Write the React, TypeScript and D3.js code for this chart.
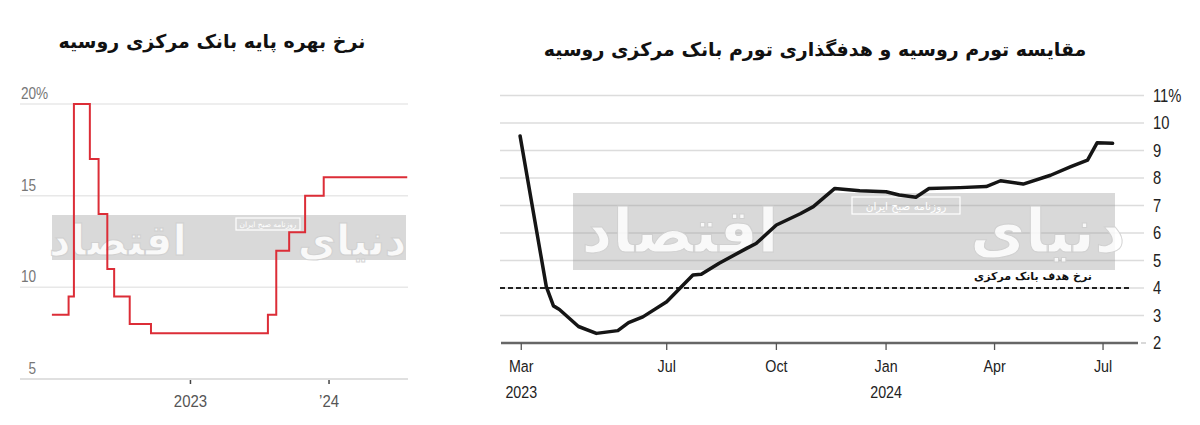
import { useEffect, useRef } from 'react';
import * as d3 from 'd3';

// Left chart: Russian central bank key rate (step line)
const rateDates = [
  '2022-01-01', '2022-02-14', '2022-02-28', '2022-04-11', '2022-05-04', '2022-05-27',
  '2022-06-14', '2022-07-25', '2022-09-19', '2023-07-24', '2023-08-15', '2023-09-18',
  '2023-10-30', '2023-12-18', '2024-07-25',
];
const rateValues = [8.5, 9.5, 20, 17, 14, 11, 9.5, 8, 7.5, 8.5, 12, 13, 15, 16, 16];
const rateTicks = [5, 10, 15, 20];
const rateXTicks = ['2023-01-01', '2024-01-01'];
const rateXLabels = ['2023', '’24'];

// Right chart: inflation vs target
const inflDates = [
  '2023-02-28', '2023-03-22', '2023-03-28', '2023-04-02', '2023-04-18', '2023-05-03',
  '2023-05-21', '2023-05-30', '2023-06-11', '2023-07-01', '2023-07-23', '2023-07-30',
  '2023-08-14', '2023-09-06', '2023-09-14', '2023-10-01', '2023-10-21', '2023-11-01',
  '2023-11-19', '2023-12-10', '2024-01-01', '2024-01-12', '2024-01-26', '2024-02-06',
  '2024-03-03', '2024-03-25', '2024-04-06', '2024-04-25', '2024-05-18', '2024-06-04',
  '2024-06-18', '2024-06-26', '2024-07-09',
];
const inflValues = [
  9.53, 4.05, 3.35, 3.22, 2.6, 2.35,
  2.45, 2.74, 2.95, 3.5, 4.47, 4.5,
  4.9, 5.44, 5.62, 6.29, 6.7, 6.96,
  7.62, 7.54, 7.5, 7.38, 7.3, 7.62,
  7.65, 7.69, 7.9, 7.78, 8.1, 8.41,
  8.65, 9.28, 9.26,
];
const targetValue = 4;
const inflTicks = [2, 3, 4, 5, 6, 7, 8, 9, 10, 11];
const inflXTicks = ['2023-03-01', '2023-07-01', '2023-10-01', '2024-01-01', '2024-04-01', '2024-07-01'];
const inflXLabels = ['Mar', 'Jul', 'Oct', 'Jan', 'Apr', 'Jul'];
const inflXYears = ['2023', '', '', '2024', '', ''];

const leftTitle = 'نرخ بهره پایه بانک مرکزی روسیه';
const rightTitle = 'مقایسه تورم روسیه و هدفگذاری تورم بانک مرکزی روسیه';
const targetLabel = 'نرخ هدف بانک مرکزی';
const watermarkA = 'اقتصاد';
const watermarkB = 'دنیای';
const watermarkSmall = 'روزنامه صبح ایران';

const parse = d3.timeParse('%Y-%m-%d');
const FA = '"DejaVu Sans", sans-serif';
const SANS = '"Liberation Sans", Arial, sans-serif';

type G = d3.Selection<SVGGElement, unknown, null, undefined>;

// condensed-looking label (narrow fonts are not available)
function narrowText(g: G, x: number, y: number, text: string, size: number, fill: string, anchor = 'middle', sx = 0.84) {
  return g
    .append('text')
    .attr('transform', `translate(${x},${y}) scale(${sx},1)`)
    .attr('text-anchor', anchor)
    .attr('font-family', SANS)
    .attr('font-size', size)
    .attr('fill', fill)
    .text(text);
}

function drawWatermark(
  g: G,
  band: { x: number; y: number; w: number; h: number },
  size: number,
  aX: number,
  bX: number,
  baseY: number,
  box: { x: number; y: number; w: number; h: number },
) {
  g.append('rect')
    .attr('x', band.x)
    .attr('y', band.y)
    .attr('width', band.w)
    .attr('height', band.h)
    .attr('fill', '#9a9a9a')
    .attr('opacity', 0.38);
  [
    [aX, watermarkA],
    [bX, watermarkB],
  ].forEach(([x, t]) => {
    g.append('text')
      .attr('x', x as number)
      .attr('y', baseY)
      .attr('text-anchor', 'middle')
      .attr('font-family', FA)
      .attr('font-weight', 'bold')
      .attr('font-size', size)
      .attr('fill', '#ffffff')
      .attr('stroke', '#cfcfcf')
      .attr('stroke-width', 1)
      .attr('opacity', 0.85)
      .text(t as string);
  });
  g.append('rect')
    .attr('x', box.x)
    .attr('y', box.y)
    .attr('width', box.w)
    .attr('height', box.h)
    .attr('fill', 'none')
    .attr('stroke', '#ffffff')
    .attr('stroke-width', 1.2);
  g.append('text')
    .attr('x', box.x + box.w / 2)
    .attr('y', box.y + box.h * 0.75)
    .attr('text-anchor', 'middle')
    .attr('font-family', FA)
    .attr('font-size', box.h * 0.62)
    .attr('fill', '#ffffff')
    .text(watermarkSmall);
}

export default function App() {
  const svgRef = useRef<SVGSVGElement>(null);

  useEffect(() => {
    if (!svgRef.current) return;
    const svg = d3.select(svgRef.current);
    svg.selectAll('*').remove();

    svg.append('rect').attr('width', 1200).attr('height', 425).attr('fill', '#ffffff');

    // ---------- Left chart ----------
    const L = svg.append('g');
    const lx = d3
      .scaleTime()
      .domain([parse('2021-10-09')!, parse('2024-07-27')!])
      .range([20, 408]);
    const ly = d3.scaleLinear().domain([5, 20]).range([379, 104]);

    L.append('text')
      .attr('x', 212)
      .attr('y', 48)
      .attr('text-anchor', 'middle')
      .attr('font-family', FA)
      .attr('font-weight', 'bold')
      .attr('font-size', 19)
      .attr('fill', '#111')
      .text(leftTitle);

    L.selectAll('line.grid')
      .data(rateTicks)
      .join('line')
      .attr('class', 'grid')
      .attr('x1', 20)
      .attr('x2', 408)
      .attr('y1', (d) => ly(d))
      .attr('y2', (d) => ly(d))
      .attr('stroke', (d) => (d === 5 ? '#d6d6d6' : '#e8e8e8'))
      .attr('stroke-width', 1.5);

    rateTicks.forEach((d) => {
      narrowText(L, 36, ly(d) - 5, String(d), 16, '#777', 'end', 0.85);
    });
    narrowText(L, 36, ly(20) - 5, '%', 16, '#777', 'start', 0.85);

    drawWatermark(
      L,
      { x: 52, y: 215, w: 354, h: 45 },
      42,
      118,
      352,
      255,
      { x: 236, y: 218, w: 64, h: 12 },
    );

    rateXTicks.forEach((t, i) => {
      const x = lx(parse(t)!);
      L.append('line')
        .attr('x1', x)
        .attr('x2', x)
        .attr('y1', 380)
        .attr('y2', 384)
        .attr('stroke', '#444')
        .attr('stroke-width', 1.5);
      narrowText(L, x, 407, rateXLabels[i], 17, '#555', 'middle', 0.88);
    });

    const rateLine = d3
      .line<number>()
      .x((_, i) => lx(parse(rateDates[i])!))
      .y((d) => ly(d))
      .curve(d3.curveStepAfter);
    L.append('path')
      .attr('d', rateLine(rateValues))
      .attr('fill', 'none')
      .attr('stroke', '#dc2d37')
      .attr('stroke-width', 2);

    // ---------- Right chart ----------
    const R = svg.append('g');
    const rx = d3
      .scaleTime()
      .domain([parse('2023-02-12')!, parse('2024-08-01')!])
      .range([501, 1140]);
    const ry = d3.scaleLinear().domain([2, 11]).range([343, 95.5]);

    R.append('text')
      .attr('x', 815)
      .attr('y', 56)
      .attr('text-anchor', 'middle')
      .attr('font-family', FA)
      .attr('font-weight', 'bold')
      .attr('font-size', 19)
      .attr('fill', '#111')
      .text(rightTitle);

    R.selectAll('line.grid')
      .data(inflTicks.filter((d) => d !== 2))
      .join('line')
      .attr('class', 'grid')
      .attr('x1', 500)
      .attr('x2', 1144)
      .attr('y1', (d) => ry(d))
      .attr('y2', (d) => ry(d))
      .attr('stroke', '#dcdcdc')
      .attr('stroke-width', 1.5);

    inflTicks.forEach((d) => {
      narrowText(R, 1153, ry(d) + 6, d === 11 ? '11%' : String(d), 18, '#222', 'start', 0.82);
    });

    drawWatermark(
      R,
      { x: 573, y: 193, w: 542, h: 77 },
      60,
      680,
      1048,
      252,
      { x: 852, y: 197, w: 108, h: 17 },
    );

    // target dashed line
    R.append('line')
      .attr('x1', 500)
      .attr('x2', 1130)
      .attr('y1', ry(targetValue))
      .attr('y2', ry(targetValue))
      .attr('stroke', '#222')
      .attr('stroke-width', 1.8)
      .attr('stroke-dasharray', '5,3');
    R.append('text')
      .attr('x', 1033)
      .attr('y', 280)
      .attr('text-anchor', 'middle')
      .attr('font-family', FA)
      .attr('font-weight', 'bold')
      .attr('font-size', 11)
      .attr('fill', '#111')
      .text(targetLabel);

    // x axis
    R.append('line')
      .attr('x1', 501)
      .attr('x2', 1138)
      .attr('y1', ry(2))
      .attr('y2', ry(2))
      .attr('stroke', '#666')
      .attr('stroke-width', 2.5);
    R.append('line')
      .attr('x1', 1141)
      .attr('x2', 1146)
      .attr('y1', ry(2))
      .attr('y2', ry(2))
      .attr('stroke', '#ccc')
      .attr('stroke-width', 1.5);
    inflXTicks.forEach((t, i) => {
      const x = rx(parse(t)!);
      R.append('line')
        .attr('x1', x)
        .attr('x2', x)
        .attr('y1', ry(2))
        .attr('y2', ry(2) + 7)
        .attr('stroke', '#555')
        .attr('stroke-width', 1.3);
      narrowText(R, x, 372, inflXLabels[i], 17, '#222');
      if (inflXYears[i]) narrowText(R, x, 398, inflXYears[i], 17, '#222');
    });

    const inflLine = d3
      .line<number>()
      .x((_, i) => rx(parse(inflDates[i])!))
      .y((d) => ly2(d))
      .curve(d3.curveLinear);
    function ly2(v: number) {
      return ry(v);
    }
    R.append('path')
      .attr('d', inflLine(inflValues))
      .attr('fill', 'none')
      .attr('stroke', '#151515')
      .attr('stroke-width', 3.5)
      .attr('stroke-linejoin', 'round')
      .attr('stroke-linecap', 'round');
  }, []);

  return (
    <div style={{ position: 'absolute', left: 0, top: 0 }}>
      <svg ref={svgRef} width={1200} height={425} />
    </div>
  );
}
